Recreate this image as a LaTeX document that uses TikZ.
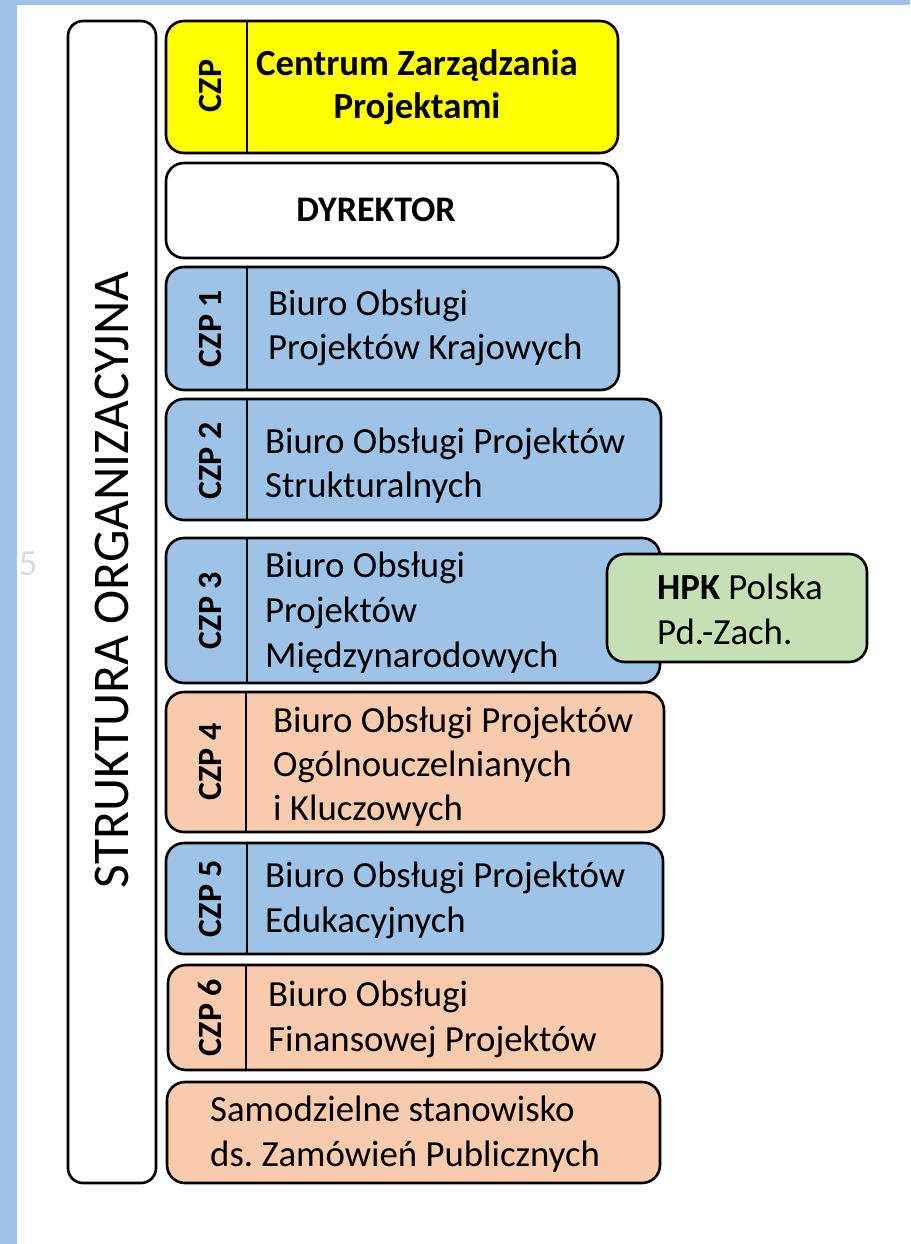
\documentclass[tikz,border=0pt]{standalone}
\usepackage{fontspec}
\setmainfont{Carlito}
\frenchspacing
\definecolor{frameblue}{HTML}{9DC3E6}
\definecolor{boxblue}{HTML}{9DC3E6}
\definecolor{boxorange}{HTML}{F8CBAD}
\definecolor{boxgreen}{HTML}{C5E0B4}
\definecolor{boxyellow}{HTML}{FFFF00}
\definecolor{faintgray}{HTML}{DADADA}
\newcommand\mylines[3][l]{{\fontsize{36.8}{#2}\selectfont\frenchspacing\begin{tabular}[t]{@{}#1@{}}#3\end{tabular}}}
\begin{document}
\begin{tikzpicture}[x=1pt,y=-1pt,
  box/.style={draw=black, line width=2.6pt, rounded corners=18pt, inner sep=0pt, rectangle},
  divider/.style={draw=black, line width=1.6pt},
  body/.style={inner sep=0pt, anchor=base west},
  tag/.style={font=\bfseries\fontsize{34}{40}\selectfont, rotate=90, anchor=base, inner sep=0pt},
]
\useasboundingbox (0,0) rectangle (910,1244);
\fill[frameblue] (0,0) rectangle (910,1244);
\fill[white] (17,5) rectangle (910,1244);
\node[anchor=base, inner sep=0pt, text=faintgray, font=\fontsize{37}{40}\selectfont] (five) at (28,575) {5};

% tall left box
\node[box, rounded corners=15pt, minimum width=88pt, minimum height=1162pt] (struct) at (112,602) {};
\node[rotate=90, anchor=base, inner sep=0pt, font=\fontsize{51.5}{56}\selectfont] (structtxt) at (128,580) {STRUKTURA ORGANIZACYJNA};

% CZP
\node[box, fill=boxyellow, minimum width=452pt, minimum height=132pt] (czp) at (392,87) {};
\draw[divider] (247,21) -- (247,153);
\node[tag] (czptag) at (221,86) {CZP};
\node[inner sep=0pt, anchor=base, font=\bfseries] (czptxt) at (417,76) {\mylines[c]{43}{Centrum Zarządzania\\Projektami}};

% DYREKTOR
\node[box, fill=white, minimum width=452pt, minimum height=95pt] (dyr) at (392,210.5) {};
\node[inner sep=0pt, anchor=base, font=\bfseries\fontsize{36}{40}\selectfont] (dyrtxt) at (376,221) {DYREKTOR};

% CZP 1
\node[box, fill=boxblue, minimum width=453pt, minimum height=123pt] (czp1) at (392.5,328.5) {};
\draw[divider] (247,267) -- (247,390);
\node[tag] (czp1tag) at (221,328.5) {CZP 1};
\node[body] (czp1txt) at (268,315) {\mylines{44}{Biuro Obsługi\\Projektów Krajowych}};

% CZP 2
\node[box, fill=boxblue, minimum width=495pt, minimum height=121pt] (czp2) at (413.5,459.5) {};
\draw[divider] (247,399) -- (247,520);
\node[tag] (czp2tag) at (221,461) {CZP 2};
\node[body] (czp2txt) at (265,453) {\mylines{44.5}{Biuro Obsługi Projektów\\Strukturalnych}};

% CZP 3
\node[box, fill=boxblue, minimum width=494pt, minimum height=145pt] (czp3) at (413,610.5) {};
\draw[divider] (247,538) -- (247,683);
\node[tag] (czp3tag) at (221,610.5) {CZP 3};
\node[body] (czp3txt) at (265,577) {\mylines{45}{Biuro Obsługi\\Projektów\\Międzynarodowych}};

% HPK
\node[box, fill=boxgreen, minimum width=260pt, minimum height=108pt] (hpk) at (737,608) {};
\node[body] (hpktxt) at (657,599) {\mylines{45}{\textbf{HPK} Polska\\Pd.-Zach.}};

% CZP 4
\node[box, fill=boxorange, minimum width=498pt, minimum height=140pt] (czp4) at (415,762) {};
\draw[divider] (246,692) -- (246,832);
\node[tag] (czp4tag) at (221,762) {CZP 4};
\node[body] (czp4txt) at (273,732) {\mylines{44}{Biuro Obsługi Projektów\\Ogólnouczelnianych\\i Kluczowych}};

% CZP 5
\node[box, fill=boxblue, minimum width=497pt, minimum height=111pt] (czp5) at (414.5,898.5) {};
\draw[divider] (247,843) -- (247,954);
\node[tag] (czp5tag) at (221,898.5) {CZP 5};
\node[body] (czp5txt) at (265,887) {\mylines{45}{Biuro Obsługi Projektów\\Edukacyjnych}};

% CZP 6
\node[box, fill=boxorange, minimum width=494pt, minimum height=105pt] (czp6) at (415,1017.5) {};
\draw[divider] (246,965) -- (246,1070);
\node[tag] (czp6tag) at (221,1017.5) {CZP 6};
\node[body] (czp6txt) at (268,1006) {\mylines{45}{Biuro Obsługi\\Finansowej Projektów}};

% Samodzielne
\node[box, fill=boxorange, minimum width=493pt, minimum height=101pt] (samo) at (413.5,1132.5) {};
\node[body] (samotxt) at (210,1121) {\mylines{45}{Samodzielne stanowisko\\ds. Zamówień Publicznych}};
\end{tikzpicture}
\end{document}
